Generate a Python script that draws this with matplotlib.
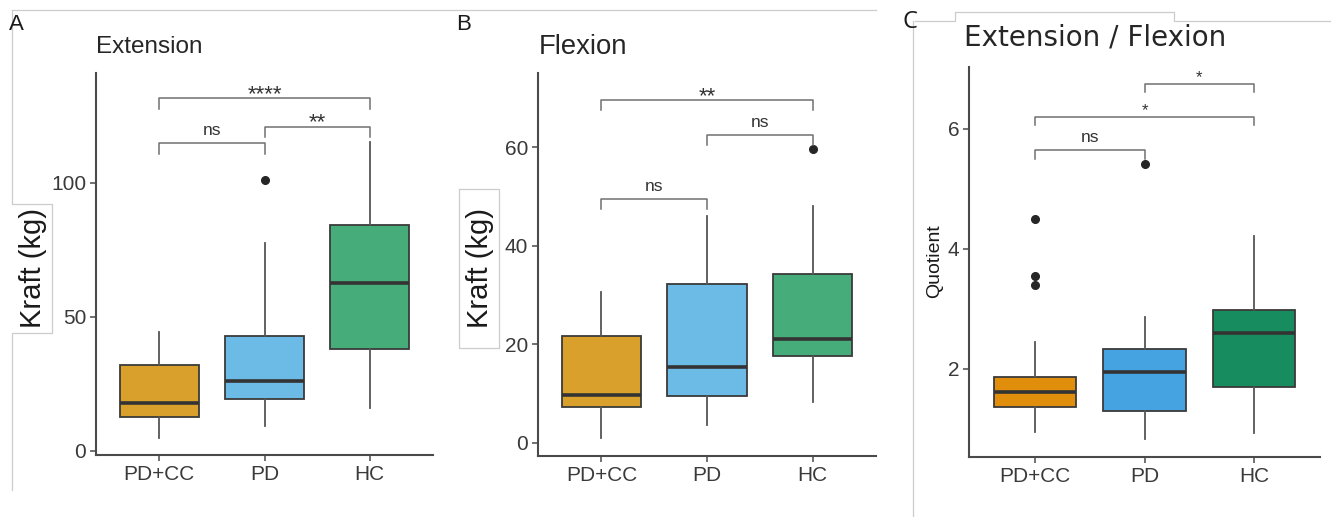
import matplotlib
matplotlib.use('Agg')
import matplotlib.pyplot as plt
from matplotlib.lines import Line2D

plt.rcParams['font.family'] = ['Liberation Sans', 'DejaVu Sans']

W, H = 1338, 517

groups = ['PD+CC', 'PD', 'HC']

# Extension (kg): whislo, q1, med, q3, whishi
ext_stats = [[5.0, 12.8, 17.8, 32.0, 44.5],
             [9.4, 19.3, 26.1, 42.9, 77.6],
             [15.9, 38.0, 62.6, 84.3, 115.4]]
ext_fliers = [[], [101.0], []]

# Flexion (kg)
flex_stats = [[0.9, 7.3, 9.6, 21.7, 30.7],
              [3.5, 9.4, 15.3, 32.3, 46.1],
              [8.3, 17.7, 21.0, 34.2, 48.1]]
flex_fliers = [[], [], [59.7]]

# Quotient extension / flexion
quot_stats = [[0.94, 1.36, 1.61, 1.86, 2.45],
              [0.83, 1.29, 1.94, 2.33, 2.86],
              [0.92, 1.70, 2.59, 2.98, 4.22]]
quot_fliers = [[4.5, 3.55, 3.39], [5.42], []]

# comparisons: (group1, group2, bracket height, label)
ext_comp = [(1, 2, 114.8, 'ns'), (2, 3, 121.0, '**'), (1, 3, 131.6, '****')]
flex_comp = [(1, 2, 49.5, 'ns'), (2, 3, 62.5, 'ns'), (1, 3, 69.6, '**')]
quot_comp = [(1, 2, 5.64, 'ns'), (1, 3, 6.20, '*'), (2, 3, 6.75, '*')]

cols_ab = ['#D9A02C', '#6CBBE6', '#45AC7A']
cols_c = ['#E08E0B', '#46A3E2', '#178C5E']

fig = plt.figure(figsize=(W / 100, H / 100), dpi=100)


def px_axes(l, t, r, b):
    return fig.add_axes([l / W, 1 - b / H, (r - l) / W, (b - t) / H])


def fx(x):
    return x / W


def fy(y):
    return 1 - y / H


def panel(ax, stats, fliers, comps, colors, ylim, yticks, tip, star_fs, star_off):
    bx = []
    for s, f, g in zip(stats, fliers, groups):
        bx.append(dict(whislo=s[0], q1=s[1], med=s[2], q3=s[3], whishi=s[4],
                       fliers=f, label=g))
    b = ax.bxp(bx, positions=[1, 2, 3], widths=0.75, patch_artist=True,
               showcaps=False,
               boxprops=dict(edgecolor='#3a3a3a', linewidth=1.3),
               medianprops=dict(color='#333333', linewidth=2.6),
               whiskerprops=dict(color='#555555', linewidth=1.3),
               flierprops=dict(marker='o', markerfacecolor='#262626',
                               markeredgecolor='#262626', markersize=5.5))
    for patch, c in zip(b['boxes'], colors):
        patch.set_facecolor(c)
    for g1, g2, y, lab in comps:
        ax.plot([g1, g1, g2, g2], [y - tip, y, y, y - tip], color='#707070', lw=1.1)
        if lab == 'ns':
            ax.annotate(lab, ((g1 + g2) / 2, y), xytext=(0, 9), textcoords='offset points',
                        ha='center', va='center', fontsize=12.5, color='#333333')
        else:
            ax.annotate(lab, ((g1 + g2) / 2, y), xytext=(0, star_off), textcoords='offset points',
                        ha='center', va='center', fontsize=star_fs, color='#333333')
    ax.set_xlim(0.4, 3.6)
    ax.set_ylim(*ylim)
    ax.set_yticks(yticks)
    for sp in ['top', 'right']:
        ax.spines[sp].set_visible(False)
    for sp in ['left', 'bottom']:
        ax.spines[sp].set_color('#4a4a4a')
        ax.spines[sp].set_linewidth(1.5)
    ax.tick_params(length=4, width=1.1, color='#4a4a4a', labelsize=15,
                   labelcolor='#3a3a3a', pad=3)
    ax.set_facecolor('none')


axA = px_axes(96, 73, 433, 455)
panel(axA, ext_stats, ext_fliers, ext_comp, cols_ab, (-1.5, 141.0), [0, 50, 100], 4.0, 16, 2.5)
axB = px_axes(538, 73, 876, 456)
panel(axB, flex_stats, flex_fliers, flex_comp, cols_ab, (-2.7, 75.1), [0, 20, 40, 60], 2.1, 16, 2.5)
axC = px_axes(969, 67, 1320, 457)
panel(axC, quot_stats, quot_fliers, quot_comp, cols_c, (0.527, 7.03), [2, 4, 6], 0.14, 12, 4.5)

# panel titles and letters
fig.text(fx(96), fy(47), 'Extension', fontsize=17.5, color='#262626', ha='left', va='center')
fig.text(fx(539), fy(47), 'Flexion', fontsize=19.8, color='#262626', ha='left', va='center')
fig.text(fx(964), fy(38), 'Extension / Flexion', fontsize=20, color='#262626',
         ha='left', va='center', family=['DejaVu Sans'])
fig.text(fx(9), fy(25), 'A', fontsize=16, color='#1a1a1a', ha='left', va='center')
fig.text(fx(456), fy(24), 'B', fontsize=16, color='#1a1a1a', ha='left', va='center')
fig.text(fx(903), fy(22), 'C', fontsize=17, color='#1a1a1a', ha='left', va='center',
         family=['Open Sans', 'DejaVu Sans'])

# y labels
fig.text(fx(33), fy(268), 'Kraft (kg)', fontsize=21, rotation=90, color='#1a1a1a',
         ha='center', va='center')
fig.text(fx(480), fy(268), 'Kraft (kg)', fontsize=21, rotation=90, color='#1a1a1a',
         ha='center', va='center')
fig.text(fx(935), fy(261), 'Quotient', fontsize=14, rotation=90, color='#1a1a1a',
         ha='center', va='center')

# thin grey frames left over from the composed figure
frames = [
    [(12, 10), (876, 10)],
    [(12, 10), (12, 204), (52, 204), (52, 333), (12, 333), (12, 490)],
    [(459, 189), (499, 189), (499, 348), (459, 348), (459, 189)],
    [(913, 21), (913, 517)],
    [(915, 21), (955, 21), (955, 12), (1174, 12), (1174, 21), (1330, 21)],
]
for pts in frames:
    xs = [fx(p[0]) for p in pts]
    ys = [fy(p[1]) for p in pts]
    fig.add_artist(Line2D(xs, ys, color='#cccccc', lw=0.9, transform=fig.transFigure))

fig.savefig('out.png', dpi=100)
